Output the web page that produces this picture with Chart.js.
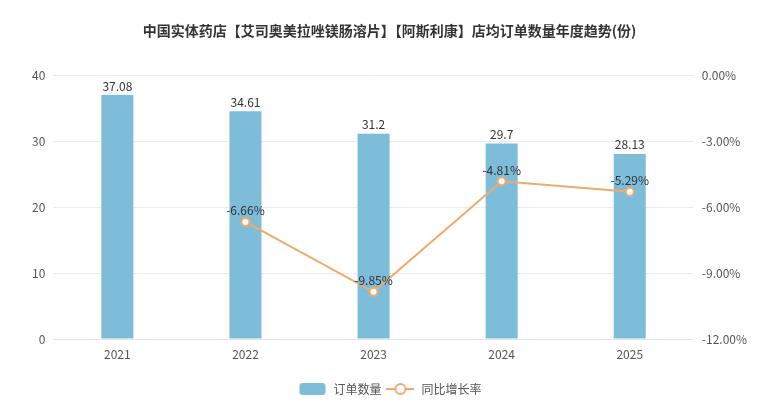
<!DOCTYPE html>
<html>
<head>
<meta charset="utf-8">
<script src="https://cdn.jsdelivr.net/npm/chart.js@4"></script>
<style>
  html, body { margin: 0; padding: 0; background: #fff; }
  #wrap { width: 780px; height: 400px; }
</style>
</head>
<body>
<div id="wrap"><canvas id="grafico"></canvas></div>
<script>
// Datos del gráfico
const years = ['2021', '2022', '2023', '2024', '2025'];
const orders = [37.08, 34.61, 31.2, 29.7, 28.13];
const growth = [null, -6.66, -9.85, -4.81, -5.29];

const FONT = '"Noto Sans CJK SC", "Open Sans", sans-serif';
const barColor = '#7ebdda';
const lineColor = '#efaa6c';

// Iconos de leyenda hechos en canvas
function legendIcon(kind) {
    const c = document.createElement('canvas');
    c.width = 28; c.height = 14;
    const g = c.getContext('2d');
    if (kind === 'bar') {
        g.fillStyle = barColor;
        g.beginPath();
        g.roundRect(1, 1, 26, 12, 3);
        g.fill();
    } else {
        g.strokeStyle = lineColor;
        g.lineWidth = 2;
        g.beginPath();
        g.moveTo(0, 7); g.lineTo(28, 7);
        g.stroke();
        g.fillStyle = '#fff';
        g.beginPath();
        g.arc(14, 7, 5, 0, Math.PI * 2);
        g.fill();
        g.stroke();
    }
    return c;
}

// Etiquetas de valores sobre barras y puntos
const valueLabels = {
    id: 'valueLabels',
    afterDatasetsDraw(chart) {
        const ctx = chart.ctx;
        ctx.save();
        ctx.font = '12px ' + FONT;
        ctx.fillStyle = '#333';
        ctx.textAlign = 'center';
        ctx.textBaseline = 'bottom';
        chart.getDatasetMeta(0).data.forEach((el, i) => {
            ctx.fillText(String(orders[i]), el.x, el.y - 3);
        });
        chart.getDatasetMeta(1).data.forEach((el, i) => {
            if (growth[i] === null) return;
            ctx.fillText(growth[i].toFixed(2) + '%', el.x, el.y - 5);
        });
        ctx.restore();
    }
};

const ctx = document.getElementById('grafico').getContext('2d');
new Chart(ctx, {
    data: {
        labels: years,
        datasets: [
            {
                type: 'bar',
                label: '订单数量',
                data: orders,
                yAxisID: 'y',
                backgroundColor: barColor,
                barPercentage: 0.5,
                categoryPercentage: 0.5,
                order: 1
            },
            {
                type: 'line',
                label: '同比增长率',
                data: growth,
                yAxisID: 'y1',
                borderColor: lineColor,
                borderWidth: 2,
                pointRadius: 4,
                pointBorderWidth: 2,
                pointBackgroundColor: '#fff',
                pointBorderColor: lineColor,
                tension: 0,
                order: 0
            }
        ]
    },
    options: {
        responsive: true,
        maintainAspectRatio: false,
        animation: false,
        layout: { padding: { left: 24, right: 25, top: 0, bottom: -5 } },
        plugins: {
            title: {
                display: true,
                text: '中国实体药店【艾司奥美拉唑镁肠溶片】【阿斯利康】店均订单数量年度趋势(份)',
                color: '#333',
                font: { family: FONT, size: 14, weight: 'bold' },
                padding: { top: 22, bottom: 37 }
            },
            legend: {
                position: 'bottom',
                labels: {
                    usePointStyle: true,
                    pointStyleWidth: 30,
                    color: '#555',
                    font: { family: FONT, size: 12 },
                    padding: 4,
                    generateLabels(chart) {
                        return [
                            { text: '订单数量', pointStyle: legendIcon('bar'), datasetIndex: 0, fontColor: '#555', lineWidth: 0 },
                            { text: '同比增长率', pointStyle: legendIcon('line'), datasetIndex: 1, fontColor: '#555', lineWidth: 0 }
                        ];
                    }
                }
            },
            tooltip: { enabled: false }
        },
        scales: {
            x: {
                grid: { display: false },
                border: { color: '#e6e6e6' },
                ticks: { color: '#555', padding: 0, font: { family: FONT, size: 12 } },
                afterFit(scale) { scale.height = 40; }
            },
            y: {
                position: 'left',
                min: 0,
                max: 40,
                ticks: { stepSize: 10, color: '#555', padding: 8, font: { family: FONT, size: 12 } },
                grid: { color: '#ececec', drawTicks: false },
                border: { display: false }
            },
            y1: {
                position: 'right',
                min: -12,
                max: 0,
                ticks: {
                    stepSize: 3,
                    color: '#555',
                    padding: 8,
                    font: { family: FONT, size: 12 },
                    callback: v => v.toFixed(2) + '%'
                },
                grid: { display: false, drawTicks: false },
                border: { display: false }
            }
        }
    },
    plugins: [valueLabels]
});
</script>
</body>
</html>
